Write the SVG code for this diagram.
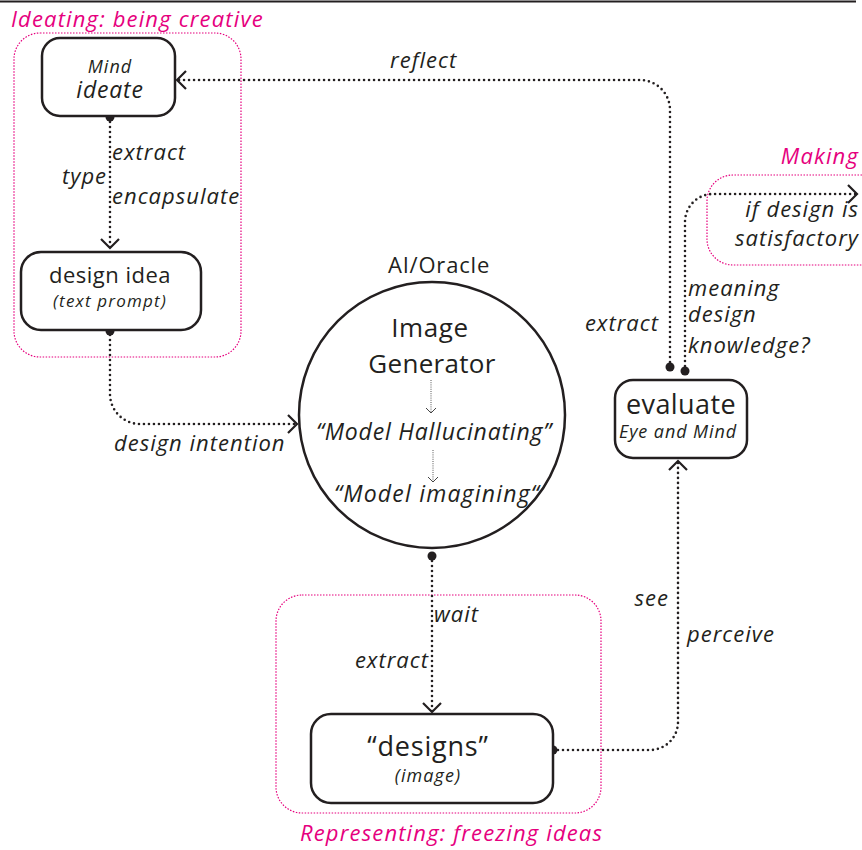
<svg xmlns="http://www.w3.org/2000/svg" width="862" height="850" viewBox="0 0 862 850">
  <style>
    .node { fill: #fff; stroke: #231f20; stroke-width: 2.5; }
    .zone { fill: none; stroke: #e6007e; stroke-width: 1.2; stroke-dasharray: 1.5 1.5; }
    .flow { fill: none; stroke: #231f20; stroke-width: 2.6; stroke-dasharray: 0 5; stroke-linecap: round; }
    .inner { fill: none; stroke: #555; stroke-width: 1; stroke-dasharray: 1 1.2; }
    .dot { fill: #231f20; }
    text { font-family: "Open Sans", "Noto Sans", "DejaVu Sans", sans-serif; fill: #231f20; }
    .it { font-style: italic; }
    .zl { fill: #e6007e; font-style: italic; font-size: 22px; letter-spacing: 1.15px; }
    .lbl { font-style: italic; font-size: 22px; letter-spacing: 1px; }
  </style>
  <defs>
    <marker id="open" viewBox="-10 -10 12 20" markerWidth="12" markerHeight="20" refX="0" refY="0" orient="auto" markerUnits="userSpaceOnUse">
      <path d="M-9,-9 L0,0 L-9,9" fill="none" stroke="#231f20" stroke-width="2.2"/>
    </marker>
    <marker id="small" viewBox="-6 -6 8 12" markerWidth="8" markerHeight="12" refX="0" refY="0" orient="auto" markerUnits="userSpaceOnUse">
      <path d="M-5,-5 L0,0 L-5,5" fill="none" stroke="#444" stroke-width="1"/>
    </marker>
  </defs>

  <!-- top rule -->
  <line x1="0" y1="1.5" x2="856" y2="1.5" stroke="#231f20" stroke-width="2"/>

  <!-- zones -->
  <g id="zone-ideating">
    <rect class="zone" x="14" y="33" width="227" height="324" rx="26"/>
    <text class="zl" x="11" y="27">Ideating: being creative</text>
  </g>
  <g id="zone-representing">
    <rect class="zone" x="276" y="595" width="325" height="218" rx="26"/>
    <text class="zl" x="300" y="841">Representing: freezing ideas</text>
  </g>
  <g id="zone-making">
    <path class="zone" d="M880,175 H733 A26,26 0 0 0 707,201 V239 A26,26 0 0 0 733,265 H880"/>
    <text class="zl" x="859" y="164" text-anchor="end">Making</text>
  </g>

  <!-- connectors -->
  <g id="connectors">
    <path class="flow" d="M110,117 V248" marker-end="url(#open)"/>
    <path class="flow" d="M110,330 V394 A30,30 0 0 0 140,424 H297" marker-end="url(#open)"/>
    <path class="flow" d="M432,556 V712" marker-end="url(#open)"/>
    <path class="flow" d="M553,750 H650 A28,28 0 0 0 678,722 V461" marker-end="url(#open)"/>
    <path class="flow" d="M670,367 V110 A30,30 0 0 0 640,80 H177" marker-end="url(#open)"/>
    <path class="flow" d="M685,371 V222 A28,28 0 0 1 713,194 H857" marker-end="url(#open)"/>
    <circle class="dot" cx="110" cy="117" r="4.5"/>
    <circle class="dot" cx="110" cy="331" r="4.5"/>
    <circle class="dot" cx="432" cy="556" r="4.5"/>
    <circle class="dot" cx="553" cy="750" r="4.5"/>
    <circle class="dot" cx="670" cy="367" r="4.5"/>
    <circle class="dot" cx="685" cy="371" r="4.5"/>

    <text class="lbl" x="112" y="160">extract</text>
    <text class="lbl" x="62" y="184">type</text>
    <text class="lbl" x="112" y="204">encapsulate</text>
    <text class="lbl" x="114" y="451">design intention</text>
    <text class="lbl" x="390" y="68">reflect</text>
    <text class="lbl" x="434" y="622">wait</text>
    <text class="lbl" x="429" y="668" text-anchor="end">extract</text>
    <text class="lbl" x="669" y="606" text-anchor="end">see</text>
    <text class="lbl" x="687" y="642">perceive</text>
    <text class="lbl" x="659" y="331" text-anchor="end">extract</text>
    <text class="lbl" x="688" y="296">meaning</text>
    <text class="lbl" x="688" y="322">design</text>
    <text class="lbl" x="688" y="353">knowledge?</text>
    <text class="lbl" x="859" y="217" text-anchor="end">if design is</text>
    <text class="lbl" x="859" y="246" text-anchor="end">satisfactory</text>
  </g>

  <!-- nodes -->
  <g id="node-mind">
    <rect class="node" x="42" y="38" width="133" height="78" rx="18"/>
    <text class="it" x="110" y="73" font-size="18" letter-spacing="1" text-anchor="middle">Mind</text>
    <text class="it" x="110" y="98" font-size="23" letter-spacing="0.8" text-anchor="middle">ideate</text>
  </g>

  <g id="node-design-idea">
    <rect class="node" x="21" y="252" width="180" height="78" rx="20"/>
    <text x="110" y="283" font-size="22" letter-spacing="0.5" text-anchor="middle">design idea</text>
    <text class="it" x="110" y="307" font-size="17" letter-spacing="1.2" text-anchor="middle">(text prompt)</text>
  </g>

  <g id="node-generator">
    <text x="439" y="273" font-size="22" letter-spacing="0.8" text-anchor="middle">AI/Oracle</text>
    <circle class="node" cx="432" cy="415" r="133"/>
    <text x="430" y="337" font-size="26" letter-spacing="0.6" text-anchor="middle">Image</text>
    <text x="432" y="373" font-size="26" letter-spacing="0.3" text-anchor="middle">Generator</text>
    <path class="inner" d="M431,380 V413" marker-end="url(#small)"/>
    <text class="it" x="434" y="440" font-size="23" letter-spacing="0.8" text-anchor="middle">“Model Hallucinating”</text>
    <path class="inner" d="M433,450 V482" marker-end="url(#small)"/>
    <text class="it" x="437" y="502" font-size="23" letter-spacing="1.2" text-anchor="middle">“Model imagining“</text>
  </g>

  <g id="node-designs">
    <rect class="node" x="311" y="714" width="242" height="89" rx="20"/>
    <text x="428" y="756" font-size="27" letter-spacing="0.8" text-anchor="middle">“designs”</text>
    <text class="it" x="428" y="782" font-size="18" letter-spacing="1.1" text-anchor="middle">(image)</text>
  </g>

  <g id="node-evaluate">
    <rect class="node" x="615" y="380" width="132" height="78" rx="18"/>
    <text x="681" y="414" font-size="27" letter-spacing="0.4" text-anchor="middle">evaluate</text>
    <text class="it" x="678" y="438" font-size="18" letter-spacing="0.9" text-anchor="middle">Eye and Mind</text>
  </g>
</svg>
